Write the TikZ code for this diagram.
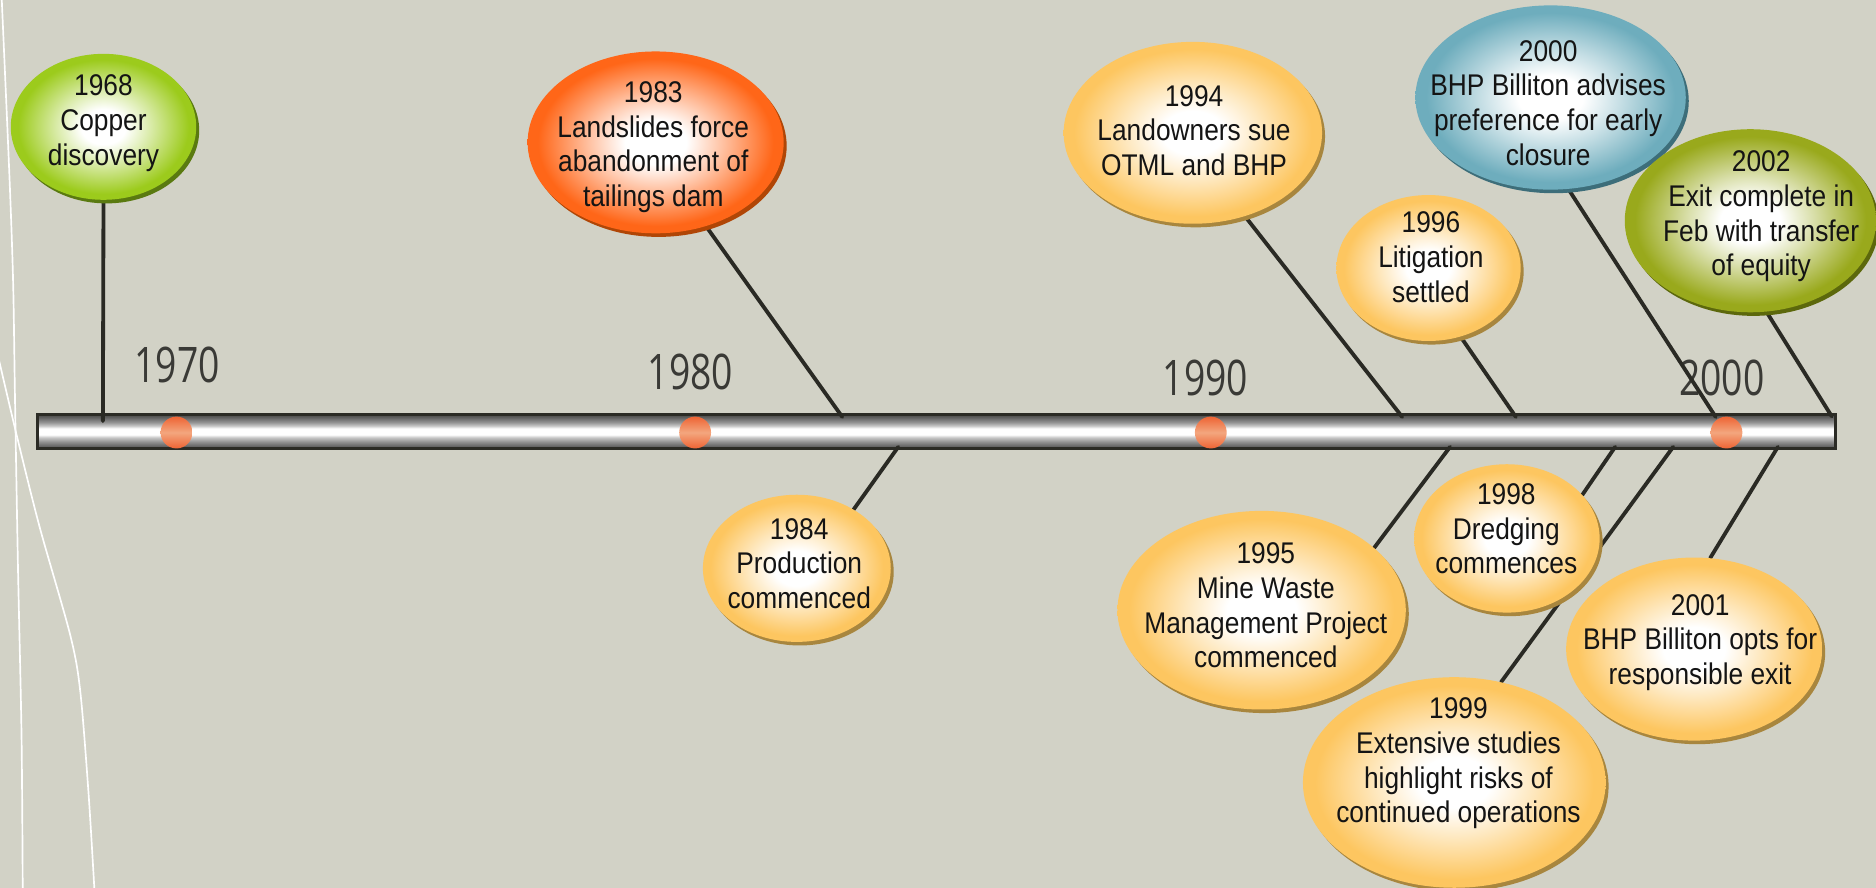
\documentclass[tikz,border=0pt]{standalone}
\usepackage{fontspec}
\setmainfont{Liberation Sans}[FakeStretch=0.88]
\newfontfamily\yearfont{Open Sans}[FakeStretch=0.76]
\usetikzlibrary{shapes.geometric,shadows}
\pgfdeclarelayer{back}
\pgfdeclarelayer{lines}
\pgfsetlayers{back,lines,main}

\definecolor{bgC}{HTML}{D2D2C6}
\definecolor{lineC}{HTML}{2A2A24}
\definecolor{yearC}{HTML}{3A3A36}
\definecolor{barB}{HTML}{2B2B25}
\definecolor{barA}{HTML}{4A4A48}
\definecolor{barA2}{HTML}{6A6A6A}
\definecolor{barM}{HTML}{959595}
\definecolor{barL}{HTML}{C8C8C8}
\definecolor{dotD}{HTML}{EE6434}
\definecolor{dotL}{HTML}{F3A67E}
\definecolor{cY}{HTML}{FDC660}
\definecolor{sY}{HTML}{A8863E}
\definecolor{cO}{HTML}{FF6618}
\definecolor{sO}{HTML}{B04606}
\definecolor{cG}{HTML}{9CCB1C}
\definecolor{sG}{HTML}{5A7A10}
\definecolor{cB}{HTML}{6EADBD}
\definecolor{sB}{HTML}{3D6E7A}
\definecolor{cL}{HTML}{99A91C}
\definecolor{sL}{HTML}{5C680C}
\colorlet{mY}{cY!40!white}
\colorlet{mO}{cO!40!white}
\colorlet{mG}{cG!40!white}
\colorlet{mB}{cB!40!white}
\colorlet{mL}{cL!40!white}

\pgfdeclareradialshading{ballY}{\pgfpoint{0bp}{0bp}}{color(0bp)=(white); color(6bp)=(white); color(13bp)=(mY); color(23bp)=(cY); color(25bp)=(cY); color(50bp)=(cY)}
\pgfdeclareradialshading{ballO}{\pgfpoint{0bp}{0bp}}{color(0bp)=(white); color(6bp)=(white); color(13bp)=(mO); color(23bp)=(cO); color(25bp)=(cO); color(50bp)=(cO)}
\pgfdeclareradialshading{ballG}{\pgfpoint{0bp}{0bp}}{color(0bp)=(white); color(6bp)=(white); color(13bp)=(mG); color(23bp)=(cG); color(25bp)=(cG); color(50bp)=(cG)}
\pgfdeclareradialshading{ballB}{\pgfpoint{0bp}{0bp}}{color(0bp)=(white); color(6bp)=(white); color(13bp)=(mB); color(23bp)=(cB); color(25bp)=(cB); color(50bp)=(cB)}
\pgfdeclareradialshading{ballL}{\pgfpoint{0bp}{0bp}}{color(0bp)=(white); color(6bp)=(white); color(13bp)=(mL); color(23bp)=(cL); color(25bp)=(cL); color(50bp)=(cL)}
\pgfdeclareverticalshading{barsh}{100bp}{color(0bp)=(barA); color(25bp)=(barA); color(30bp)=(barA2); color(36bp)=(barM); color(42bp)=(barL); color(46bp)=(white); color(55bp)=(white); color(59bp)=(barL); color(64bp)=(barM); color(70bp)=(barA2); color(75bp)=(barA); color(100bp)=(barA)}

\begin{document}
\begin{tikzpicture}[x=1pt,y=-1pt,
  conn/.style={draw=lineC, line width=3.2pt, line cap=round},
  ev/.style={ellipse, inner sep=0pt, draw=none},
  evY/.style={ev, shading=ballY, general shadow={fill=sY, shadow xshift=2.5pt, shadow yshift=-3pt}},
  evO/.style={ev, shading=ballO, general shadow={fill=sO, shadow xshift=2.5pt, shadow yshift=-3pt}},
  evG/.style={ev, shading=ballG, general shadow={fill=sG, shadow xshift=2.5pt, shadow yshift=-3pt}},
  evB/.style={ev, shading=ballB, general shadow={fill=sB, shadow xshift=2.5pt, shadow yshift=-3pt}},
  evL/.style={ev, shading=ballL, general shadow={fill=sL, shadow xshift=2.5pt, shadow yshift=-3pt}},
  evtext/.style={align=center, font=\fontsize{25}{29}\selectfont, text=black!92, inner sep=0pt},
  yearlab/.style={font=\yearfont\fontsize{41}{45}\selectfont, text=yearC, inner sep=0pt},
  dot/.style={circle, minimum size=26.6pt, inner sep=0pt, top color=dotD, bottom color=dotD, middle color=dotL},
  ]
\useasboundingbox (0,0) rectangle (1568,742);

\begin{pgfonlayer}{back}
\fill[bgC] (0,0) rectangle (1568,742);
\draw[white, line width=1.4pt] plot[smooth] coordinates {(1.4,-2) (8,150) (11,237) (12.5,331) (15,473) (18,615) (19,745)};
\draw[white, line width=1.4pt] plot[smooth] coordinates {(-2,296) (14,364) (33,440) (58.5,530) (67,577) (74,663) (79,745)};
% timeline bar
\node[minimum width=1503pt, minimum height=28.5pt, inner sep=0pt, shading=barsh, draw=barB, line width=2.5pt] (bar) at (782.5,361) {};
% decade dots
\node[dot] (d1970) at (147.5,361.5) {};
\node[dot] (d1980) at (581,361.5) {};
\node[dot] (d1990) at (1012,361.5) {};
\node[dot] (d2000) at (1443,361.5) {};
% decade labels
\node[yearlab] (y1970) at (148,305) {1970};
\node[yearlab] (y1980) at (577,311) {1980};
\node[yearlab] (y1990) at (1007.5,316) {1990};
\node[yearlab] (y2000) at (1439,316) {2000};
\end{pgfonlayer}

% connector ends on the bar
\coordinate (b1968) at (86,352);
\coordinate (b1983) at (704,348.5);
\coordinate (b1994) at (1172,348.5);
\coordinate (b1996) at (1267,348.5);
\coordinate (b2000) at (1434,348.5);
\coordinate (b2002) at (1531,348);
\coordinate (b1984) at (750.8,373.5);
\coordinate (b1995) at (1212,373.5);
\coordinate (b1998) at (1350,373.5);
\coordinate (b1999) at (1398.5,373.5);
\coordinate (b2001) at (1486,373.5);

% events
\node[evG, minimum width=155pt, minimum height=122pt] (e1968) at (86.5,106) {};
\node[evtext] (t1968) at (86.5,103) {1968\\Copper\\discovery};

\node[evO, minimum width=214pt, minimum height=152pt] (e1983) at (548,119) {};
\node[evtext] (t1983) at (546,123) {1983\\Landslides force\\abandonment of\\tailings dam};

\node[evY, minimum width=157pt, minimum height=123pt] (e1984) at (666,475) {};
\node[evtext] (t1984) at (668,471) {1984\\Production\\commenced};

\node[evY, minimum width=216pt, minimum height=152pt] (e1994) at (997,111) {};
\node[evtext] (t1994) at (998,109) {1994\\Landowners sue\\OTML and BHP};

\node[evY, minimum width=241pt, minimum height=166pt] (e1995) at (1054.5,510) {};
\node[evtext] (t1995) at (1058,506) {1995\\Mine Waste\\Management Project\\commenced};

\node[evY, minimum width=154pt, minimum height=122pt] (e1996) at (1194,224) {};
\node[evtext] (t1996) at (1196,215) {1996\\Litigation\\settled};

\node[evY, minimum width=155pt, minimum height=124pt] (e1998) at (1259.5,450) {};
\node[evtext] (t1998) at (1259,442) {1998\\Dredging\\commences};

\node[evY, minimum width=253pt, minimum height=176pt] (e1999) at (1215.5,654) {};
\node[evtext] (t1999) at (1219,638) {1999\\Extensive studies\\highlight risks of\\continued operations};

\node[evB, minimum width=226pt, minimum height=154pt] (e2000) at (1296,81.5) {};
\node[evtext] (t2000) at (1294,86) {2000\\BHP Billiton advises\\preference for early\\closure};

\node[evY, minimum width=214pt, minimum height=153pt] (e2001) at (1416,542.5) {};
\node[evtext] (t2001) at (1421,537) {2001\\BHP Billiton opts for\\responsible exit};

\node[evL, minimum width=210pt, minimum height=153pt] (e2002) at (1463,184.5) {};
\node[evtext] (t2002) at (1472,181) {2002\\Exit complete in\\Feb with transfer\\of equity};

% connectors
\begin{pgfonlayer}{lines}
\draw[conn] (e1968.south) -- (b1968);
\draw[conn] (e1983.-59.7) -- (b1983);
\draw[conn] (e1984.46.8) -- (b1984);
\draw[conn] (e1994.-58.8) -- (b1994);
\draw[conn] (e1995.29.6) -- (b1995);
\draw[conn] (e1996.-65.4) -- (b1996);
\draw[conn] (e1998.30.5) -- (b1998);
\draw[conn] (e1999.65.9) -- (b1999);
\draw[conn] (e2000.-79.6) -- (b2000);
\draw[conn] (e2001.80.6) -- (b2001);
\draw[conn] (e2002.-80.2) -- (b2002);
\end{pgfonlayer}
\end{tikzpicture}
\end{document}
